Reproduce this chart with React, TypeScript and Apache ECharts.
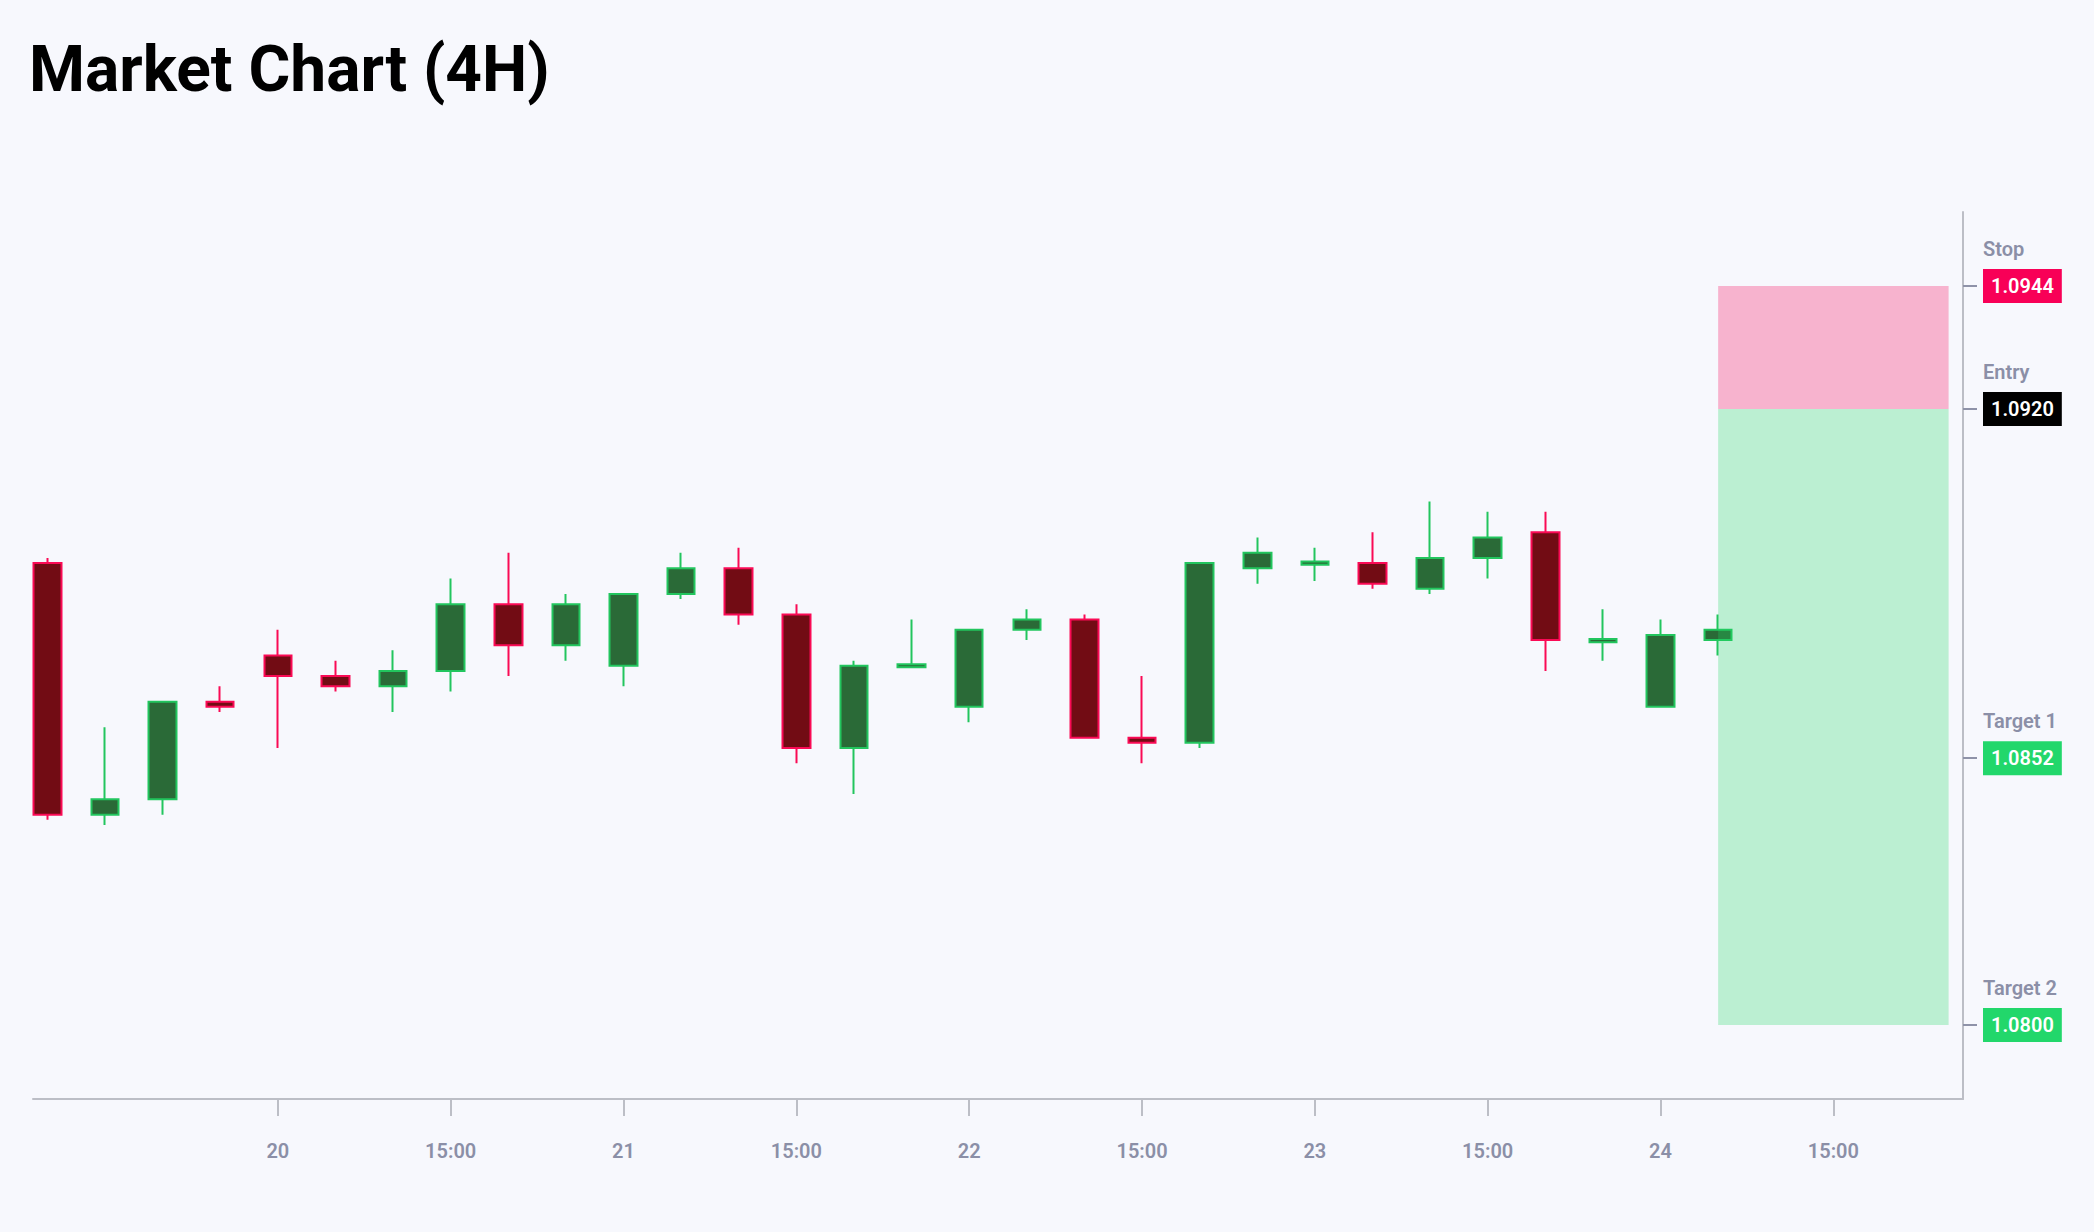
import React, { useEffect, useRef } from "react";
import * as echarts from "echarts";

// ---- data ----
const opens = [
  1.0890, 1.0841, 1.0844, 1.0863, 1.0872, 1.0868, 1.0866, 1.0869, 1.0882, 1.0874,
  1.0870, 1.0884, 1.0889, 1.0880, 1.0854, 1.08697, 1.0862, 1.0877, 1.0879, 1.0856,
  1.0855, 1.0889, 1.08897, 1.0890, 1.0885, 1.0891, 1.0896, 1.08746, 1.0862, 1.0875,
];
const closes = [
  1.0841, 1.0844, 1.0863, 1.0862, 1.0868, 1.0866, 1.0869, 1.0882, 1.0874, 1.0882,
  1.0884, 1.0889, 1.0880, 1.0854, 1.0870, 1.08703, 1.0877, 1.0879, 1.0856, 1.0855,
  1.0890, 1.0892, 1.08903, 1.0886, 1.0891, 1.0895, 1.0875, 1.08752, 1.0876, 1.0877,
];
const lows = [
  1.0840, 1.0839, 1.0841, 1.0861, 1.0854, 1.0865, 1.0861, 1.0865, 1.0868, 1.0871,
  1.0866, 1.0883, 1.0878, 1.0851, 1.0845, 1.08696, 1.0859, 1.0875, 1.0856, 1.0851,
  1.0854, 1.0886, 1.08865, 1.0885, 1.0884, 1.0887, 1.0869, 1.0871, 1.0862, 1.0872,
];
const highs = [
  1.0891, 1.0858, 1.0863, 1.0866, 1.0877, 1.0871, 1.0873, 1.0887, 1.0892, 1.0884,
  1.0884, 1.0892, 1.0893, 1.0882, 1.0871, 1.0879, 1.0877, 1.0881, 1.0880, 1.0868,
  1.0890, 1.0895, 1.0893, 1.0896, 1.0902, 1.0900, 1.0900, 1.0881, 1.0879, 1.0880,
];

const tickPositions = [4, 7, 10, 13, 16, 19, 22, 25, 28, 31];
const tickLabels = ["20", "15:00", "21", "15:00", "22", "15:00", "23", "15:00", "24", "15:00"];

const levelNames = ["Stop", "Entry", "Target 1", "Target 2"];
const levelValues = [1.0944, 1.092, 1.0852, 1.08];
const levelKeys = ["stop", "entry", "target", "target"];

const positionStart = 29;
const positionEnd = 33;

// ---- styles ----
const BG = "#f7f8fd";
const BULL_FILL = "#2a6a37";
const BULL_BORDER = "#22c55e";
const BEAR_FILL = "#720c14";
const BEAR_BORDER = "#fa0a55";
const STOP_COLOR = "#f80057";
const TARGET_COLOR = "#22d76b";
const MUTED = "#8b8fa7";
const AXIS_LINE = "#bcbec6";

export default function App() {
  const ref = useRef<HTMLDivElement>(null);

  useEffect(() => {
    document.body.style.margin = "0";
    document.body.style.overflow = "hidden";
    if (!ref.current) return;
    const chart = echarts.init(ref.current, undefined, { renderer: "svg" });

    const candleData = opens.map((o, i) => [i, o, closes[i], lows[i], highs[i]]);
    const stop = levelValues[0];
    const entry = levelValues[1];
    const finalTarget = levelValues[3];
    const span = stop - finalTarget;
    const yMin = finalTarget - span * 0.1;
    const yMax = stop + span * 0.1;

    const boxBase = {
      fontSize: 20, fontWeight: 600, color: "#fff",
      padding: [0, 8], height: 34, lineHeight: 34, fontFamily: "Roboto",
    };
    const rich: Record<string, any> = {
      n: { fontSize: 20, fontWeight: 600, color: MUTED, lineHeight: 40, fontFamily: "Roboto" },
      stop: { ...boxBase, backgroundColor: STOP_COLOR },
      entry: { ...boxBase, backgroundColor: "#000" },
      target: { ...boxBase, backgroundColor: TARGET_COLOR },
    };

    chart.setOption({
      animation: false,
      backgroundColor: BG,
      title: {
        text: "Market Chart (4H)",
        left: 29,
        top: 37,
        padding: 0,
        textStyle: { fontSize: 64, fontWeight: 700, color: "#000", fontFamily: "Roboto" },
      },
      grid: { left: 33, right: 131, top: 212, bottom: 133, containLabel: false },
      xAxis: {
        type: "value",
        min: -0.25,
        max: 33.25,
        axisLine: { show: true, onZero: false, lineStyle: { color: AXIS_LINE, width: 2 } },
        axisTick: {
          show: true,
          customValues: tickPositions,
          length: 17,
          lineStyle: { color: AXIS_LINE, width: 2 },
        },
        axisLabel: {
          customValues: tickPositions,
          margin: 42,
          fontSize: 20,
          fontWeight: 600,
          color: MUTED,
          fontFamily: "Roboto",
          formatter: (v: number) => {
            const idx = tickPositions.findIndex((p) => Math.abs(p - v) < 1e-6);
            return idx >= 0 ? tickLabels[idx] : "";
          },
        },
        splitLine: { show: false },
      },
      yAxis: {
        type: "value",
        position: "right",
        min: yMin,
        max: yMax,
        scale: true,
        axisLine: { show: true, onZero: false, lineStyle: { color: AXIS_LINE, width: 2 } },
        axisTick: {
          show: true,
          customValues: levelValues,
          length: 14,
          lineStyle: { color: "#8e92a8", width: 2 },
        },
        axisLabel: {
          customValues: levelValues,
          margin: 20,
          align: "left",
          padding: [0, 0, 40, 0],
          rich,
          formatter: (v: number) => {
            const idx = levelValues.findIndex((p) => Math.abs(p - v) < 1e-7);
            if (idx < 0) return "";
            return `{n|${levelNames[idx]}}\n{${levelKeys[idx]}|${levelValues[idx].toFixed(4)}}`;
          },
        },
        splitLine: { show: false },
      },
      series: [
        {
          type: "candlestick",
          data: candleData,
          encode: { x: 0, y: [1, 2, 3, 4] },
          barWidth: 28,
          itemStyle: {
            color: BULL_FILL,
            color0: BEAR_FILL,
            borderColor: BULL_BORDER,
            borderColor0: BEAR_BORDER,
            borderWidth: 2,
          },
          markArea: {
            silent: true,
            z: 5,
            data: [
              [
                { xAxis: positionStart, yAxis: stop, itemStyle: { color: "rgba(248,0,87,0.28)" } },
                { xAxis: positionEnd, yAxis: entry },
              ],
              [
                { xAxis: positionStart, yAxis: entry, itemStyle: { color: "rgba(34,214,100,0.28)" } },
                { xAxis: positionEnd, yAxis: finalTarget },
              ],
            ],
          },
        },
      ],
    });

    return () => chart.dispose();
  }, []);

  return <div ref={ref} style={{ width: 2094, height: 1232 }} />;
}
